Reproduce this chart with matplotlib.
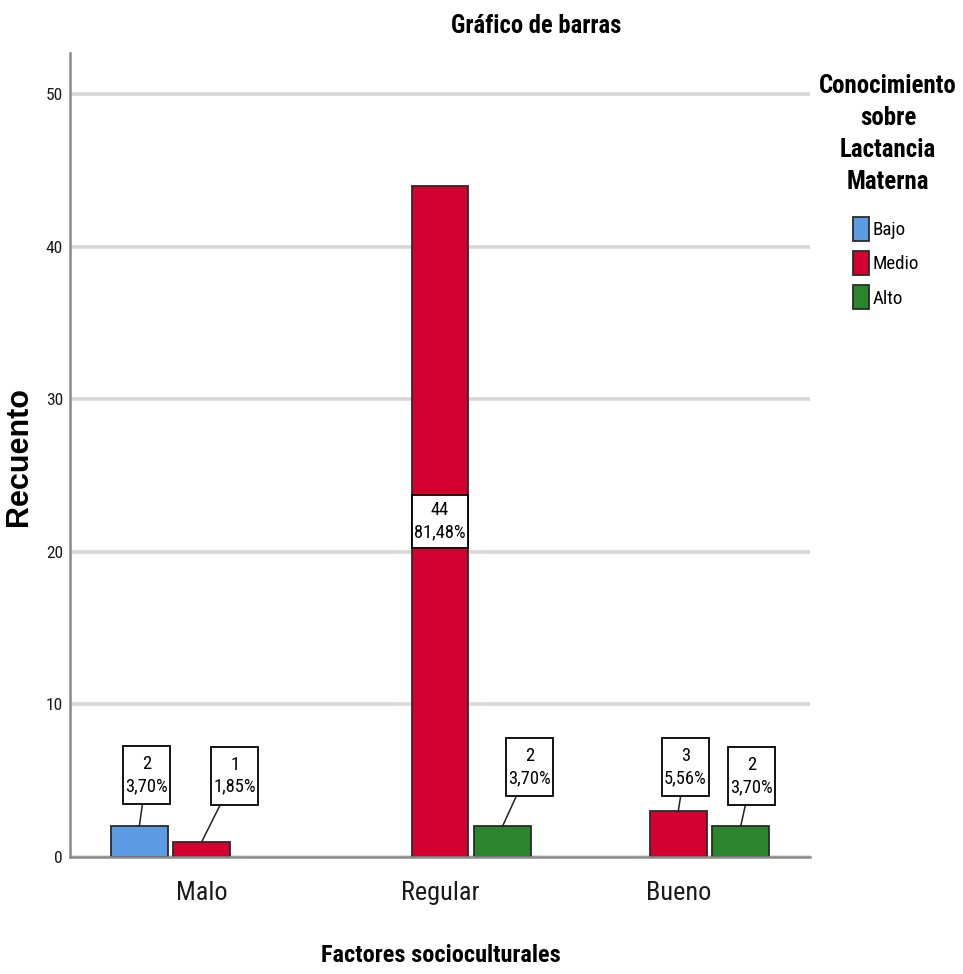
import os
import re
import numpy as np
import matplotlib
matplotlib.use("Agg")
import matplotlib.pyplot as plt
from matplotlib import font_manager as fm
from matplotlib.path import Path
from matplotlib.patches import Patch
from matplotlib.textpath import TextPath

# ---------------- data ----------------
categories = ["Malo", "Regular", "Bueno"]
series = ["Bajo", "Medio", "Alto"]
counts_bajo = [2, 0, 0]
counts_medio = [1, 44, 3]
counts_alto = [0, 2, 2]
yticks = [0, 10, 20, 30, 40, 50]
title = "Gráfico de barras"
xlabel = "Factores socioculturales"
ylabel = "Recuento"
legend_title = "Conocimiento\nsobre\nLactancia\nMaterna"

# ---------------- styles ----------------
colors = ["#5a9be3", "#d40030", "#2a852c"]
edge = "#2b2b2b"
# label box offsets (pixels from bar top centre to box centre); None = inside bar
label_offsets = {
    (0, 0): (7, 51), (1, 0): (33, 66),
    (1, 1): None, (2, 1): (27, 59),
    (1, 2): (7, 44), (2, 2): (11, 50),
}

# ---------------- fonts ----------------
def _norm(s):
    return re.sub(r"[^a-z]", "", s.lower())

prefs = ["liberationsansnarrow", "arialnarrow", "robotocondensed",
         "notosanscondensed", "opensanscondensed", "dejavusanscondensed"]

def _weight(f):
    w = f.weight
    if isinstance(w, str):
        w = fm.weight_dict.get(w, 400)
    return int(w)

def find_narrow(weight):
    best = None
    for f in fm.fontManager.ttflist:
        key = _norm(os.path.basename(f.fname))
        if f.style != "normal" or "italic" in key or "oblique" in key:
            continue
        if _weight(f) != weight:
            continue
        for i, p in enumerate(prefs):
            if key.startswith(p):
                if best is None or i < best[0]:
                    best = (i, f.fname)
    return best

nr = find_narrow(400)
nb = find_narrow(700)
if nr is not None and nb is not None and nr[0] == nb[0]:
    PROP_R = fm.FontProperties(fname=nr[1])
    PROP_B = fm.FontProperties(fname=nb[1])
else:
    PROP_R = fm.FontProperties(family="Liberation Sans", weight="normal")
    PROP_B = fm.FontProperties(family="Liberation Sans", weight="bold")


def fitted(prop, s, tw, tcap):
    p = prop.copy()
    p.set_size(10)
    e = TextPath((0, 0), s, prop=p).get_extents()
    h = TextPath((0, 0), "H", prop=p).get_extents()
    w_px = e.width * 100 / 72
    c_px = h.height * 100 / 72
    size = min(10 * tw / w_px, 10 * tcap / c_px)
    q = prop.copy()
    q.set_size(size)
    return q

p_title = fitted(PROP_B, title, 168, 21)
p_xtick = fitted(PROP_R, "Regular", 76, 19)
p_ytick = fitted(PROP_R, "50", 15, 17)
p_xlabel = fitted(PROP_B, xlabel, 237, 19)
p_legtitle = fitted(PROP_B, "Conocimiento", 136, 20)
p_leglab = fitted(PROP_R, "Medio", 44, 17)
p_ann = fitted(PROP_R, "3,70%", 41, 14)
p_ylabel = fm.FontProperties(family="Liberation Sans", weight="bold", size=22)


class FixedBox:
    def __init__(self, w, h):
        self.w, self.h = w, h

    def __call__(self, x0, y0, width, height, mutation_size):
        cx = x0 + width / 2
        cy = y0 + height / 2
        w = max(self.w, width + 4)
        h = max(self.h, height + 4)
        verts = [(cx - w / 2, cy - h / 2), (cx + w / 2, cy - h / 2),
                 (cx + w / 2, cy + h / 2), (cx - w / 2, cy + h / 2),
                 (cx - w / 2, cy - h / 2)]
        return Path(verts, closed=True)


# ---------------- figure ----------------
W, H = 963, 974
fig = plt.figure(figsize=(W / 100, H / 100), dpi=100)
ax = fig.add_axes([70 / W, 1 - 857 / H, 740 / W, (857 - 53) / H])

x = np.arange(len(categories))
slot = 0.262
bw = 0.238
series_counts = [counts_bajo, counts_medio, counts_alto]
total = sum(sum(v) for v in series_counts)

for si, (name, vals, col) in enumerate(zip(series, series_counts, colors)):
    pos = x + (si - 1) * slot
    bars = ax.bar(pos, vals, bw, color=col, edgecolor=edge, linewidth=1.3, zorder=3)
    for ci, (b, v) in enumerate(zip(bars, vals)):
        if v == 0:
            b.set_visible(False)
            continue
        pct = f"{100 * v / total:.2f}".replace(".", ",") + "%"
        txt = f"{v}\n{pct}"
        off = label_offsets.get((si, ci))
        if off is None:
            ax.text(pos[ci], v / 2, txt, ha="center", va="center",
                    fontproperties=p_ann, linespacing=1.3, zorder=5,
                    bbox=dict(boxstyle=FixedBox(54, 53), facecolor="white",
                              edgecolor="black", linewidth=1.3))
        else:
            ax.annotate(txt, xy=(pos[ci], v), xycoords="data",
                        xytext=off, textcoords="offset pixels",
                        ha="center", va="center", fontproperties=p_ann,
                        linespacing=1.3, zorder=5,
                        bbox=dict(boxstyle=FixedBox(46, 58), facecolor="white",
                                  edgecolor="black", linewidth=1.3),
                        arrowprops=dict(arrowstyle="-", color="#222222", lw=1.1,
                                        shrinkA=0, shrinkB=0))

ax.set_xlim(-0.553, 2.553)
ax.set_ylim(0, 52.7)
ax.set_yticks(yticks)
ax.set_xticks(x, categories)
ax.yaxis.grid(True, color="#d6d6d6", linewidth=2.6, zorder=0)
ax.set_axisbelow(True)
for s in ["top", "right"]:
    ax.spines[s].set_visible(False)
for s in ["left", "bottom"]:
    ax.spines[s].set_color("#8a8a8a")
    ax.spines[s].set_linewidth(1.8)
    ax.spines[s].set_zorder(4)
ax.tick_params(length=0)
ax.tick_params(axis="x", pad=17, colors="#1a1a1a")
ax.tick_params(axis="y", pad=5, colors="#1a1a1a")
for lab in ax.get_xticklabels():
    lab.set_fontproperties(p_xtick)
for lab in ax.get_yticklabels():
    lab.set_fontproperties(p_ytick)

ax.set_xlabel(xlabel, fontproperties=p_xlabel, color="black")
ax.xaxis.set_label_coords((441 - 70) / 740, (857 - 955) / (857 - 53))
ax.xaxis.label.set_va("center")
ax.set_ylabel(ylabel, fontproperties=p_ylabel, color="black")
ax.yaxis.set_label_coords((18.5 - 70) / 740, (857 - 456) / (857 - 53))
ax.yaxis.label.set_va("center")

fig.suptitle(title, x=536 / W, y=1 - 26 / H, va="center", fontproperties=p_title)

# legend title and entries
fig.text(888 / W, 1 - 134 / H, legend_title, ha="center", va="center",
         multialignment="center", linespacing=1.42, fontproperties=p_legtitle,
         color="black")
handles = [Patch(facecolor=c, edgecolor=edge, linewidth=1.3, label=s)
           for s, c in zip(series, colors)]
fs_px = p_leglab.get_size_in_points() * 100 / 72
leg = fig.legend(handles=handles, loc="upper center",
                 bbox_to_anchor=(886 / W, 1 - 217 / H), frameon=False,
                 prop=p_leglab, alignment="center",
                 handlelength=16 / fs_px, handleheight=30 / fs_px,
                 handletextpad=4 / fs_px, labelspacing=10 / fs_px,
                 borderpad=0, borderaxespad=0)

fig.savefig("out.png", dpi=100)
